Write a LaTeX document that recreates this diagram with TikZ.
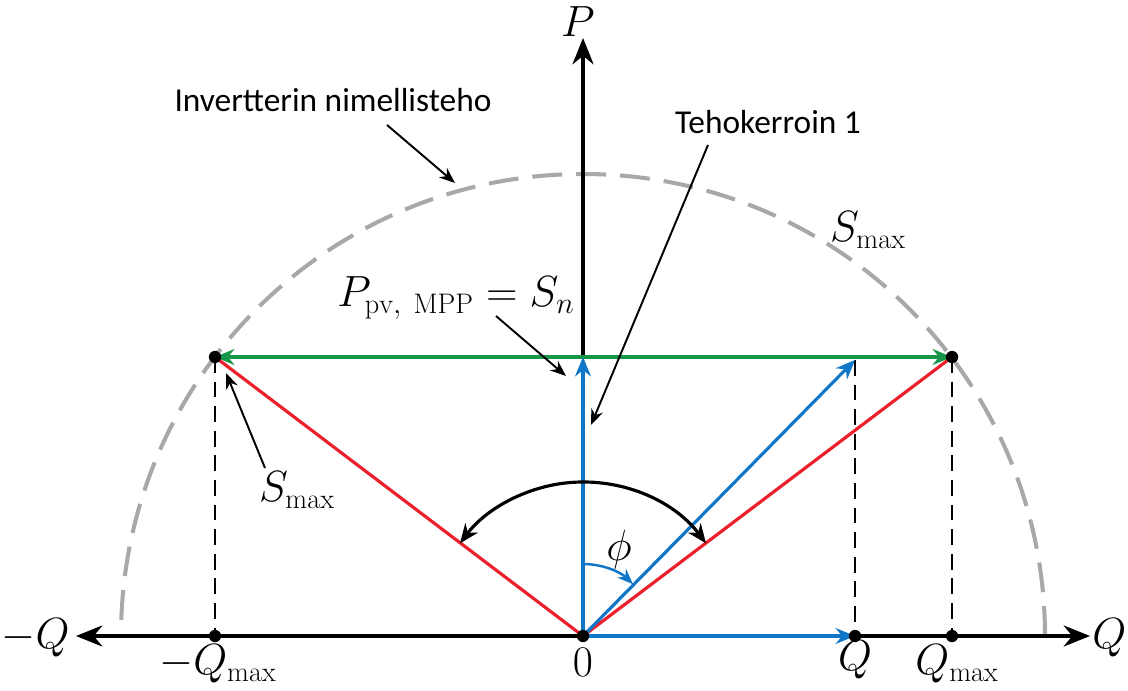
\documentclass[tikz,border=0pt]{standalone}
\usepackage{fontspec}
\newfontfamily\carlito{Carlito}
\usetikzlibrary{arrows.meta,calc}

\definecolor{pvred}{RGB}{236,32,42}
\definecolor{pvgreen}{RGB}{24,150,72}
\definecolor{pvblue}{RGB}{16,118,200}
\definecolor{ringgray}{RGB}{168,168,168}

\tikzset{
  axisline/.style={line width=2pt,-{Stealth[length=15pt,width=12pt]}},
  vecline/.style={line width=1.8pt},
  vectip/.style={vecline,-{Stealth[length=11pt,width=9pt]}},
  guide/.style={line width=0.8pt,dash pattern=on 9pt off 5pt},
  note/.style={line width=1.1pt,-{Stealth[length=9pt,width=7pt]}},
  pt/.style={circle,fill=black,inner sep=0pt,minimum size=7pt},
  lbl/.style={font=\carlito\fontsize{19}{22}\selectfont}
}

\begin{document}
\begin{tikzpicture}[x=0.02cm,y=0.02cm,font=\fontsize{23}{27}\selectfont]
\useasboundingbox (0,0) rectangle (1128,690);

% points
\coordinate (O) at (583,54);
\coordinate (xl) at (76,54);
\coordinate (xr) at (1090,54);
\coordinate (yt) at (583,652);
\coordinate (sl) at (215,333);
\coordinate (sr) at (952,333);
\coordinate (pn) at (583,333);
\coordinate (vq) at (855,330);
\coordinate (qp) at (855,54);
\coordinate (ql) at (215,54);
\coordinate (qr) at (952,54);

% nimellisteho circle
\draw[ringgray,line width=2.3pt,dash pattern=on 17pt off 8pt] ($(O)+(0:462)$) arc (0:180:462);

% guides
\draw[guide] (sl) -- (ql);
\draw[guide] (sr) -- (qr);
\draw[guide] (vq) -- (qp);

% axes
\draw[axisline] (O) -- (xl);
\draw[axisline] (qp) -- (xr);
\draw[axisline] (pn) -- (yt);

% vectors
\draw[pvred,vecline] (O) -- (sl);
\draw[pvred,vecline] (O) -- (sr);
\draw[pvgreen,line width=1.9pt,{Stealth[length=11pt,width=9pt]}-{Stealth[length=11pt,width=9pt]}] (sl) -- (sr);
\draw[pvblue,vectip] (O) -- (pn);
\draw[pvblue,vectip] (O) -- (vq);
\draw[pvblue,vectip] (O) -- (qp);

% angles
\draw[vecline,{Stealth[length=11pt,width=9pt]}-{Stealth[length=11pt,width=9pt]}] ($(O)+(37:154)$) arc (37:143:154);
\draw[pvblue,line width=1.4pt,-{Stealth[length=9pt,width=7pt]}] ($(O)+(90:72)$) arc (90:46:72);
\node (phi) at (619,140) {$\phi$};

% dots
\node[pt] at (O) {};
\node[pt] at (sl) {};
\node[pt] at (sr) {};
\node[pt] at (qp) {};
\node[pt] at (ql) {};
\node[pt] at (qr) {};

% axis labels
\node[anchor=east,inner sep=0pt] (lmq) at (70,52) {$-Q$};
\node[anchor=west,inner sep=0pt] (lq) at (1092,52) {$Q$};
\node (lp) at (578,668) {$P$};
\node (lqml) at (218,26) {$-Q_{\max}$};
\node (l0) at (583,28) {$0$};
\node (lqp) at (855,30) {$Q$};
\node (lqmr) at (957,26) {$Q_{\max}$};
\node (lsr) at (868,460) {$S_{\max}$};

% annotations
\node[lbl] (inv) at (333,590) {Invertterin nimellisteho};
\node[lbl] (pf) at (768,568) {Tehokerroin 1};
\node (pmpp) at (456,392) {$P_{\mathrm{pv},\ \mathrm{MPP}} = S_n$};
\node (lsl) at (297,200) {$S_{\max}$};

\coordinate (inv1) at (387,565);
\coordinate (inv2) at (455,507);
\coordinate (pf1) at (708,545);
\coordinate (pf2) at (591,265);
\coordinate (pm1) at (496,374);
\coordinate (pm2) at (566,314);
\coordinate (sm1) at (265,222);
\coordinate (sm2) at (226,317);
\draw[note] (inv1) -- (inv2);
\draw[note] (pf1) -- (pf2);
\draw[note] (pm1) -- (pm2);
\draw[note] (sm1) -- (sm2);
\end{tikzpicture}
\end{document}
